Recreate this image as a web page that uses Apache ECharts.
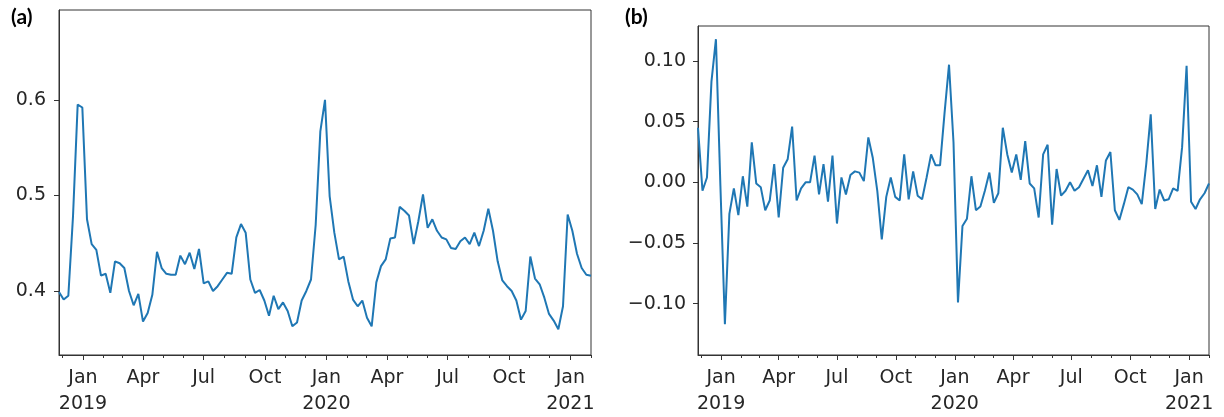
<!DOCTYPE html>
<html><head><meta charset="utf-8">
<script src="https://cdn.jsdelivr.net/npm/echarts@6/dist/echarts.min.js"></script>
<style>html,body{margin:0;padding:0;background:#fff}#c{width:1224px;height:417px}</style>
</head><body><div id="c"></div>
<script>
// weekly observations, first week starting 2018-11-26
const startDate = '2018-11-26';
const weekCount = 115;

// panel (a): level series
const seriesA = [
0.399,0.391,0.395,0.478,0.595,0.592,0.475,0.449,0.443,0.416,
0.418,0.398,0.431,0.429,0.424,0.400,0.385,0.397,0.368,0.377,
0.396,0.441,0.424,0.418,0.417,0.417,0.437,0.428,0.440,0.423,
0.444,0.408,0.410,0.400,0.405,0.412,0.419,0.418,0.456,0.470,
0.461,0.412,0.398,0.401,0.390,0.374,0.395,0.381,0.388,0.379,
0.363,0.367,0.390,0.400,0.412,0.469,0.567,0.600,0.499,0.461,
0.433,0.436,0.410,0.391,0.384,0.390,0.372,0.363,0.409,0.426,
0.433,0.455,0.456,0.488,0.484,0.479,0.449,0.473,0.501,0.466,
0.475,0.463,0.456,0.454,0.445,0.444,0.452,0.456,0.449,0.461,
0.447,0.463,0.486,0.463,0.431,0.411,0.405,0.400,0.390,0.370,
0.379,0.436,0.413,0.407,0.393,0.376,0.369,0.360,0.384,0.480,
0.463,0.439,0.424,0.417,0.416
];

// panel (b): weekly change series
const seriesB = [
0.045,-0.007,0.004,0.083,0.118,-0.003,-0.117,-0.026,-0.005,-0.027,
0.005,-0.020,0.033,-0.001,-0.004,-0.023,-0.015,0.015,-0.029,0.012,
0.019,0.046,-0.015,-0.005,0.000,0.000,0.022,-0.010,0.015,-0.016,
0.022,-0.034,0.004,-0.010,0.006,0.009,0.008,0.001,0.037,0.020,
-0.007,-0.047,-0.012,0.004,-0.012,-0.015,0.023,-0.014,0.009,-0.011,
-0.014,0.004,0.023,0.014,0.014,0.057,0.097,0.033,-0.099,-0.036,
-0.030,0.005,-0.023,-0.020,-0.007,0.008,-0.017,-0.009,0.045,0.023,
0.008,0.023,0.002,0.034,-0.001,-0.005,-0.029,0.023,0.031,-0.035,
0.011,-0.011,-0.007,0.000,-0.007,-0.004,0.003,0.010,-0.003,0.014,
-0.012,0.018,0.025,-0.023,-0.031,-0.018,-0.004,-0.006,-0.010,-0.018,
0.015,0.056,-0.022,-0.006,-0.015,-0.014,-0.005,-0.007,0.029,0.096,
-0.016,-0.022,-0.014,-0.009,-0.001
];

const majorTickDates = ['2019-01-01','2019-04-01','2019-07-01','2019-10-01','2020-01-01','2020-04-01','2020-07-01','2020-10-01','2021-01-01'];
const majorTickLabels = ['Jan\n2019','Apr','Jul','Oct','Jan\n2020','Apr','Jul','Oct','Jan\n2021'];
const minorTickDates = ['2018-12-01','2019-02-01','2019-03-01','2019-05-01','2019-06-01','2019-08-01','2019-09-01','2019-11-01','2019-12-01','2020-02-01','2020-03-01','2020-05-01','2020-06-01','2020-08-01','2020-09-01','2020-11-01','2020-12-01','2021-02-01'];
const yTicksA = [0.4, 0.5, 0.6];
const yTicksB = [-0.10, -0.05, 0.00, 0.05, 0.10];
const panelLabels = ['(a)', '(b)'];

const DAY = 864e5;
const t = s => Date.UTC(+s.slice(0,4), +s.slice(5,7)-1, +s.slice(8,10));
const t0 = t(startDate);
const dates = [];
for (let i = 0; i < weekCount; i++) dates.push(t0 + i*7*DAY);
const xMin = dates[0], xMax = dates[dates.length-1];
const majorTs = majorTickDates.map(t);
const minorTs = minorTickDates.map(t);

const FONT = 'DejaVu Sans';
const TXT = '#262626';
const AX = '#333';

function xAxes(gi) {
  return [{
    type: 'value', gridIndex: gi, min: xMin, max: xMax, position: 'bottom',
    axisLine: {show: true, onZero: false, lineStyle: {color: AX, width: 1}},
    axisTick: {show: true, customValues: majorTs, length: 5, lineStyle: {color: AX, width: 1}},
    axisLabel: {customValues: majorTs, formatter: v => majorTickLabels[majorTs.indexOf(v)] || '',
      fontFamily: FONT, fontSize: 19, color: TXT, lineHeight: 26, margin: 10},
    splitLine: {show: false}
  }, {
    type: 'value', gridIndex: gi, min: xMin, max: xMax, position: 'bottom',
    axisLine: {show: false, onZero: false},
    axisTick: {show: true, customValues: minorTs, length: 3, lineStyle: {color: AX, width: 1}},
    axisLabel: {show: false},
    splitLine: {show: false}
  }];
}
function yAxis(gi, min, max, ticks, fmt, margin) {
  return {
    type: 'value', gridIndex: gi, min: min, max: max,
    axisLine: {show: true, onZero: false, lineStyle: {color: AX, width: 1}},
    axisTick: {show: true, customValues: ticks, length: 5, lineStyle: {color: AX, width: 1}},
    axisLabel: {customValues: ticks, formatter: fmt, fontFamily: FONT, fontSize: 19, color: TXT, margin: margin},
    splitLine: {show: false}
  };
}

const chart = echarts.init(document.getElementById('c'), null, {renderer: 'canvas'});
chart.setOption({
  animation: false,
  backgroundColor: '#fff',
  grid: [
    {left: 59, top: 10, width: 532, height: 346, show: true, borderColor: AX, borderWidth: 1, backgroundColor: 'transparent'},
    {left: 698, top: 26, width: 511, height: 333, show: true, borderColor: AX, borderWidth: 1, backgroundColor: 'transparent'}
  ],
  xAxis: [...xAxes(0), ...xAxes(1)],
  yAxis: [
    yAxis(0, 0.333, 0.694, yTicksA, v => v.toFixed(1), 13),
    yAxis(1, -0.1424, 0.1289, yTicksB, v => (v < -1e-9 ? '\u2212' : '') + Math.abs(v).toFixed(2), 12)
  ],
  graphic: [
    {type: 'text', left: 11, top: 7, style: {text: panelLabels[0], font: 'bold 21px Lato', fill: '#000'}},
    {type: 'text', left: 625, top: 7, style: {text: panelLabels[1], font: 'bold 21px Lato', fill: '#000'}}
  ],
  series: [
    {type: 'line', xAxisIndex: 0, yAxisIndex: 0, showSymbol: false, silent: true,
     lineStyle: {color: '#1f77b4', width: 2}, data: dates.map((d, i) => [d, seriesA[i]])},
    {type: 'line', xAxisIndex: 2, yAxisIndex: 1, showSymbol: false, silent: true,
     lineStyle: {color: '#1f77b4', width: 2}, data: dates.map((d, i) => [d, seriesB[i]])}
  ]
});
</script></body></html>
